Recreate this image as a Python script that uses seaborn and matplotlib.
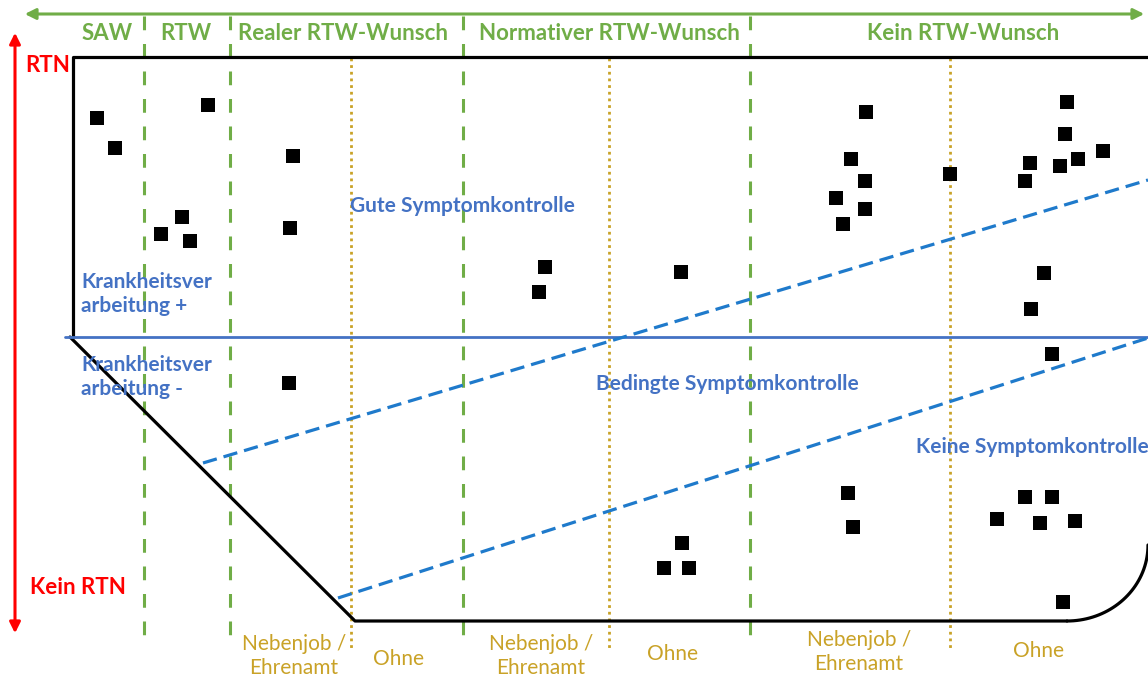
import numpy as np
import pandas as pd
import seaborn as sns
import matplotlib.pyplot as plt

# square markers (cases) in pixel units
case_x = [97, 115, 208, 293, 182, 161, 190, 290, 289,
          545, 539, 681,
          866, 851, 865, 836, 865, 843, 950,
          1067, 1065, 1030, 1060, 1078, 1103, 1025,
          1044, 1031, 1052,
          848, 853, 682, 664, 689,
          1025, 1052, 997, 1040, 1075, 1063]
case_y = [118, 148, 105, 156, 217, 234, 241, 228, 383,
          267, 292, 272,
          112, 159, 181, 198, 209, 224, 174,
          102, 134, 163, 166, 159, 151, 181,
          273, 309, 354,
          493, 527, 543, 568, 568,
          497, 497, 519, 523, 521, 602]

# column headers (RTW axis)
header_labels = ["SAW", "RTW", "Realer RTW-Wunsch", "Normativer RTW-Wunsch", "Kein RTW-Wunsch"]
header_x = [107, 186, 343, 609, 963]
green_sep_x = [144, 230, 463, 750]

# sub columns
orange_sep_x = [351, 609, 950]
sub_labels = ["Nebenjob /\nEhrenamt", "Ohne", "Nebenjob /\nEhrenamt", "Ohne", "Nebenjob /\nEhrenamt", "Ohne"]
sub_x = [294, 398, 541, 673, 859, 1038]
sub_y = [656, 659, 656, 654, 652, 651]

GREEN = "#70AD47"
ORANGE = "#C9A227"
BLUE = "#4472C4"
BLUE_DASH = "#1F7ACB"

sns.set_theme(style="white")
plt.rcParams['font.family'] = ['Lato', 'DejaVu Sans']

fig = plt.figure(figsize=(11.48, 6.81), dpi=100)
ax = fig.add_axes([0, 0, 1, 1])
ax.set_xlim(0, 1148)
ax.set_ylim(681, 0)
ax.axis("off")

# green RTW axis arrow
ax.annotate("", xy=(1147, 14), xytext=(22, 14),
            arrowprops=dict(arrowstyle="<|-|>", color=GREEN, lw=2.2, mutation_scale=16))
# red RTN arrow
ax.annotate("", xy=(15, 636), xytext=(15, 30),
            arrowprops=dict(arrowstyle="<|-|>", color="red", lw=2.2, mutation_scale=16))

for x in green_sep_x:
    ax.plot([x, x], [16, 640], color=GREEN, lw=2.2, dashes=(4.5, 4.5))
for x in orange_sep_x:
    ax.plot([x, x], [58, 651], color=ORANGE, lw=2.0, dashes=(1, 1.4))

# outline
t = np.linspace(0, np.pi / 2, 40)
arc_x = 1067 + 81 * np.sin(t)
arc_y = 545 + 76 * np.cos(t)
ax.plot([1148, 73, 73], [57, 57, 337], color="black", lw=2.3)
ax.plot([70, 355, 1067], [337, 621, 621], color="black", lw=2.3)
ax.plot(arc_x, arc_y, color="black", lw=2.3)

# Krankheitsverarbeitung split
ax.plot([65, 1148], [337, 337], color=BLUE, lw=2.0)
# symptom control bands
ax.plot([203, 1148], [463, 180], color=BLUE_DASH, lw=2.3, dashes=(4.5, 2.2))
ax.plot([338, 1148], [598, 338], color=BLUE_DASH, lw=2.3, dashes=(4.5, 2.2))

cases = pd.DataFrame({"x": case_x, "y": case_y})
sns.scatterplot(data=cases, x="x", y="y", marker="s", s=105, color="black",
                edgecolor="none", ax=ax, zorder=5)

for lab, x in zip(header_labels, header_x):
    ax.text(x, 33, lab, color=GREEN, fontsize=16, fontweight="bold", ha="center", va="center")

ax.text(48, 65, "RTN", color="red", fontsize=16, fontweight="bold", ha="center", va="center")
ax.text(78, 587, "Kein RTN", color="red", fontsize=16, fontweight="bold", ha="center", va="center")

ax.text(462, 206, "Gute Symptomkontrolle", color=BLUE, fontsize=15, fontweight="bold", ha="center", va="center")
ax.text(727, 384, "Bedingte Symptomkontrolle", color=BLUE, fontsize=15, fontweight="bold", ha="center", va="center")
ax.text(916, 447, "Keine Symptomkontrolle", color=BLUE, fontsize=15, fontweight="bold", ha="left", va="center")
ax.text(81, 294, "Krankheitsver\narbeitung +", color=BLUE, fontsize=15, fontweight="bold",
        ha="left", va="center", linespacing=1.3)
ax.text(81, 377, "Krankheitsver\narbeitung -", color=BLUE, fontsize=15, fontweight="bold",
        ha="left", va="center", linespacing=1.3)

for lab, x, y in zip(sub_labels, sub_x, sub_y):
    ax.text(x, y, lab, color=ORANGE, fontsize=15, ha="center", va="center", linespacing=1.25)

fig.savefig("out.png", dpi=100)
